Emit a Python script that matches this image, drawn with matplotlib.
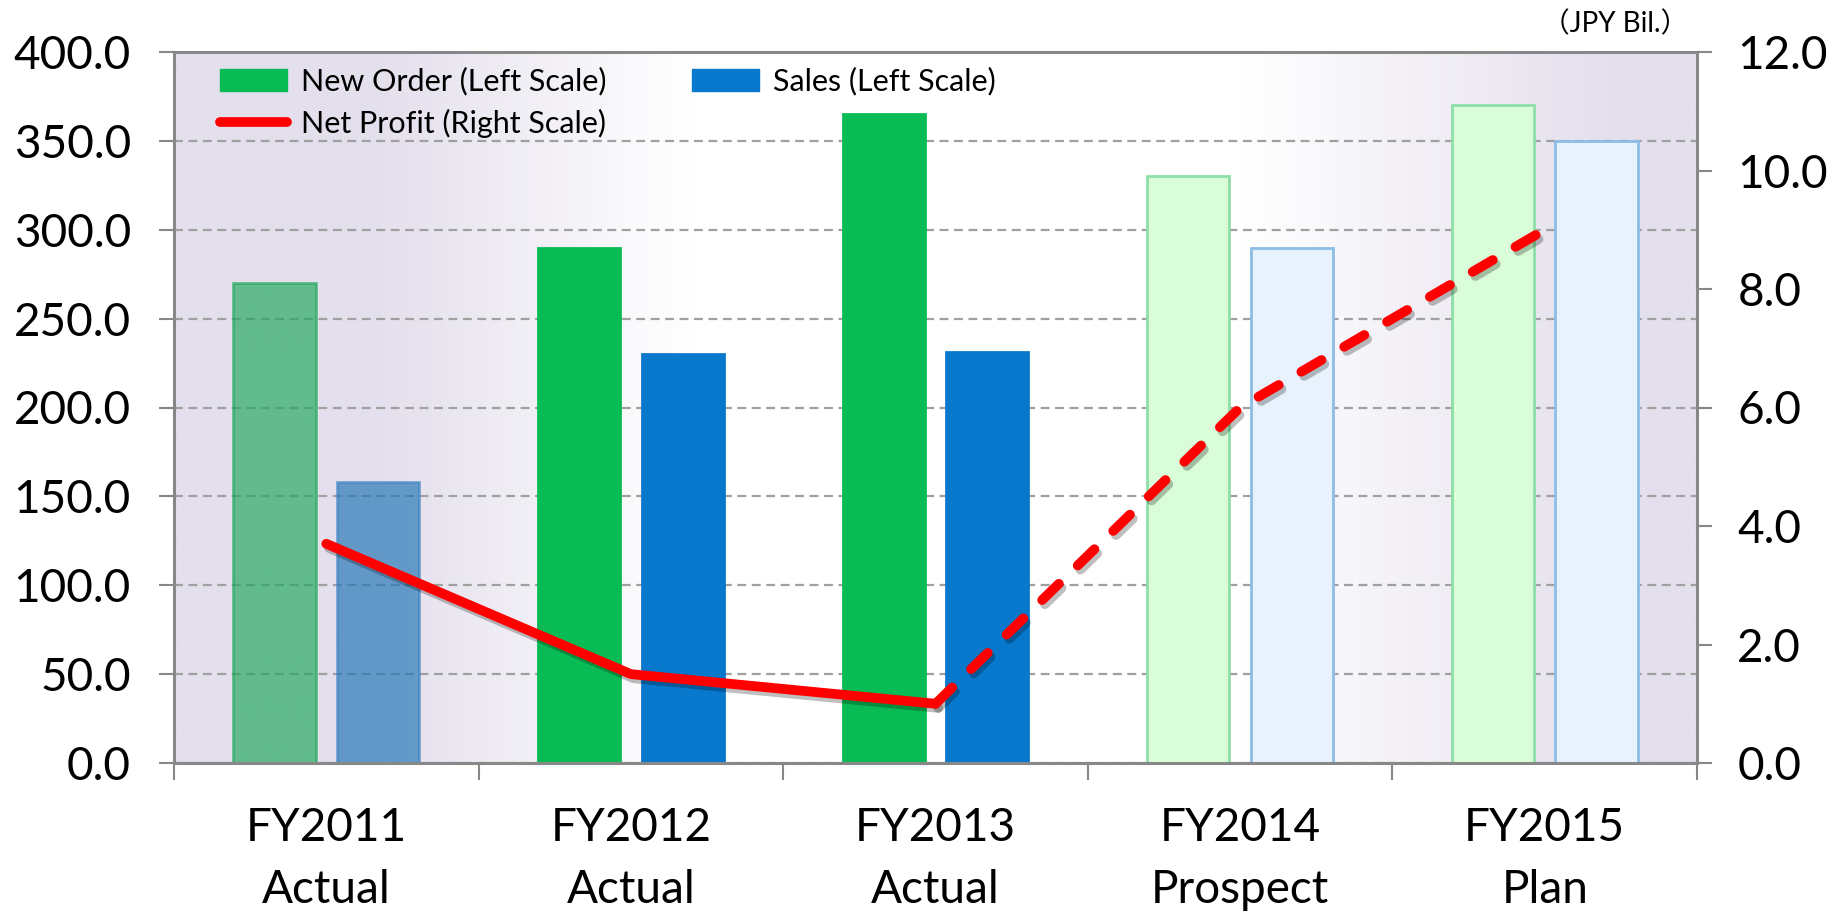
import matplotlib
matplotlib.use("Agg")
import matplotlib.pyplot as plt
import matplotlib.patheffects as pe
from matplotlib.lines import Line2D
from matplotlib.patches import Patch
import numpy as np

plt.rcParams["font.family"] = ["Lato", "Noto Sans CJK JP", "DejaVu Sans"]

# ---- data ----
years = ["FY2011\nActual", "FY2012\nActual", "FY2013\nActual", "FY2014\nProspect", "FY2015\nPlan"]
new_order = [270.0, 290.0, 365.0, 330.0, 370.0]
sales = [158.0, 230.0, 231.0, 290.0, 350.0]
net_profit = [3.7, 1.5, 1.0, 6.0, 9.0]

# bar styles per year: faded actual, solid actual, light plan
green_face = ["#1DA85B", "#08BB55", "#08BB55", "#D9FDD9", "#D9FDD9"]
green_edge = ["#1DA85B", "#08BB55", "#08BB55", "#8EDFA7", "#8EDFA7"]
blue_face = ["#1D73B5", "#0878CC", "#0878CC", "#E8F2FD", "#E8F2FD"]
blue_edge = ["#3A82C2", "#0878CC", "#0878CC", "#8DBDE6", "#8DBDE6"]
alphas = [0.65, 1, 1, 1, 1]

W, H = 1847, 915
fig = plt.figure(figsize=(W / 100, H / 100), dpi=100, facecolor="w")
ax = fig.add_axes([174 / W, 1 - 763 / H, (1697 - 174) / W, (763 - 52) / H])

# background gradient (lavender -> white -> lavender)
lav = np.array([228, 223, 236]) / 255.0
wht = np.array([1.0, 1.0, 1.0])
xs = np.linspace(0, 1, 600)
stops = [0.0, 0.13, 0.34, 0.70, 0.95, 1.0]
mix = np.interp(xs, stops, [0, 0, 1, 1, 0, 0])
grad = (lav[None, :] * (1 - mix[:, None]) + wht[None, :] * mix[:, None])[None, :, :]
ax.imshow(grad, extent=[-0.5, 4.5, 0, 400], aspect="auto", zorder=0, interpolation="bilinear")

x = np.arange(len(years))
bw = 0.27
off = 0.17
for i in range(len(years)):
    ax.bar(x[i] - off, new_order[i], bw, color=green_face[i], edgecolor=green_edge[i],
           linewidth=2, alpha=alphas[i], zorder=2)
    ax.bar(x[i] + off, sales[i], bw, color=blue_face[i], edgecolor=blue_edge[i],
           linewidth=2, alpha=alphas[i], zorder=2)

ax.set_xlim(-0.5, 4.5)
ax.set_ylim(0, 400)
ax.set_yticks(np.arange(0, 401, 50))
ax.set_yticklabels(["%.1f" % v for v in np.arange(0, 401, 50)])
ax.yaxis.grid(True, linestyle=(0, (4, 2.5)), color="#A0A0A0", linewidth=1.6, zorder=1)
ax.set_axisbelow(True)

ax.set_xticks(x)
ax.set_xticklabels(years, linespacing=1.58)
ax.set_xticks(np.arange(-0.5, 4.6, 1), minor=True)
ax.tick_params(axis="x", which="major", length=0, pad=32, labelsize=33)
ax.tick_params(axis="x", which="minor", length=12, width=1.5, color="#888888", direction="out")
ax.tick_params(axis="y", length=11, width=1.5, color="#888888", direction="out", pad=20, labelsize=33)

for s in ["top", "bottom", "left", "right"]:
    ax.spines[s].set_color("#888888")
    ax.spines[s].set_linewidth(2.2)

# net profit on right scale
ax2 = ax.twinx()
ax2.set_ylim(0, 12)
ax2.set_yticks(np.arange(0, 12.1, 2))
ax2.set_yticklabels(["%.1f" % v for v in np.arange(0, 12.1, 2)])
ax2.tick_params(axis="y", length=11, width=1.5, color="#888888", direction="out", pad=18, labelsize=33)
for s in ["top", "bottom", "left", "right"]:
    ax2.spines[s].set_visible(False)

shadow = [pe.SimpleLineShadow(offset=(2, -3), alpha=0.25, shadow_color="k"), pe.Normal()]
ax2.plot(x[:3], net_profit[:3], color="#FF0000", linewidth=7, solid_capstyle="round",
         solid_joinstyle="round", path_effects=shadow, zorder=3)
ax2.plot(x[2:], net_profit[2:], color="#FF0000", linewidth=7, linestyle=(0, (2.4, 2.7)),
         dash_capstyle="round", path_effects=shadow, zorder=3)

handles = [Patch(facecolor="#08BB55", edgecolor="#08BB55"),
           Line2D([], [], color="#FF0000", linewidth=7, solid_capstyle="round"),
           Patch(facecolor="#0878CC", edgecolor="#0878CC")]
labels = ["New Order (Left Scale)", "Net Profit (Right Scale)", "Sales (Left Scale)"]
ax2.legend(handles, labels, ncol=2, loc="upper left", bbox_to_anchor=(0.012, 1.018),
           frameon=False, fontsize=22, handlelength=2.2, handleheight=0.75,
           columnspacing=2.8, labelspacing=0.45, handletextpad=0.45)

fig.text(1688 / W, 1 - 24 / H, "（JPY Bil.）", ha="right", va="center", fontsize=20)

fig.savefig("out.png", dpi=100)
